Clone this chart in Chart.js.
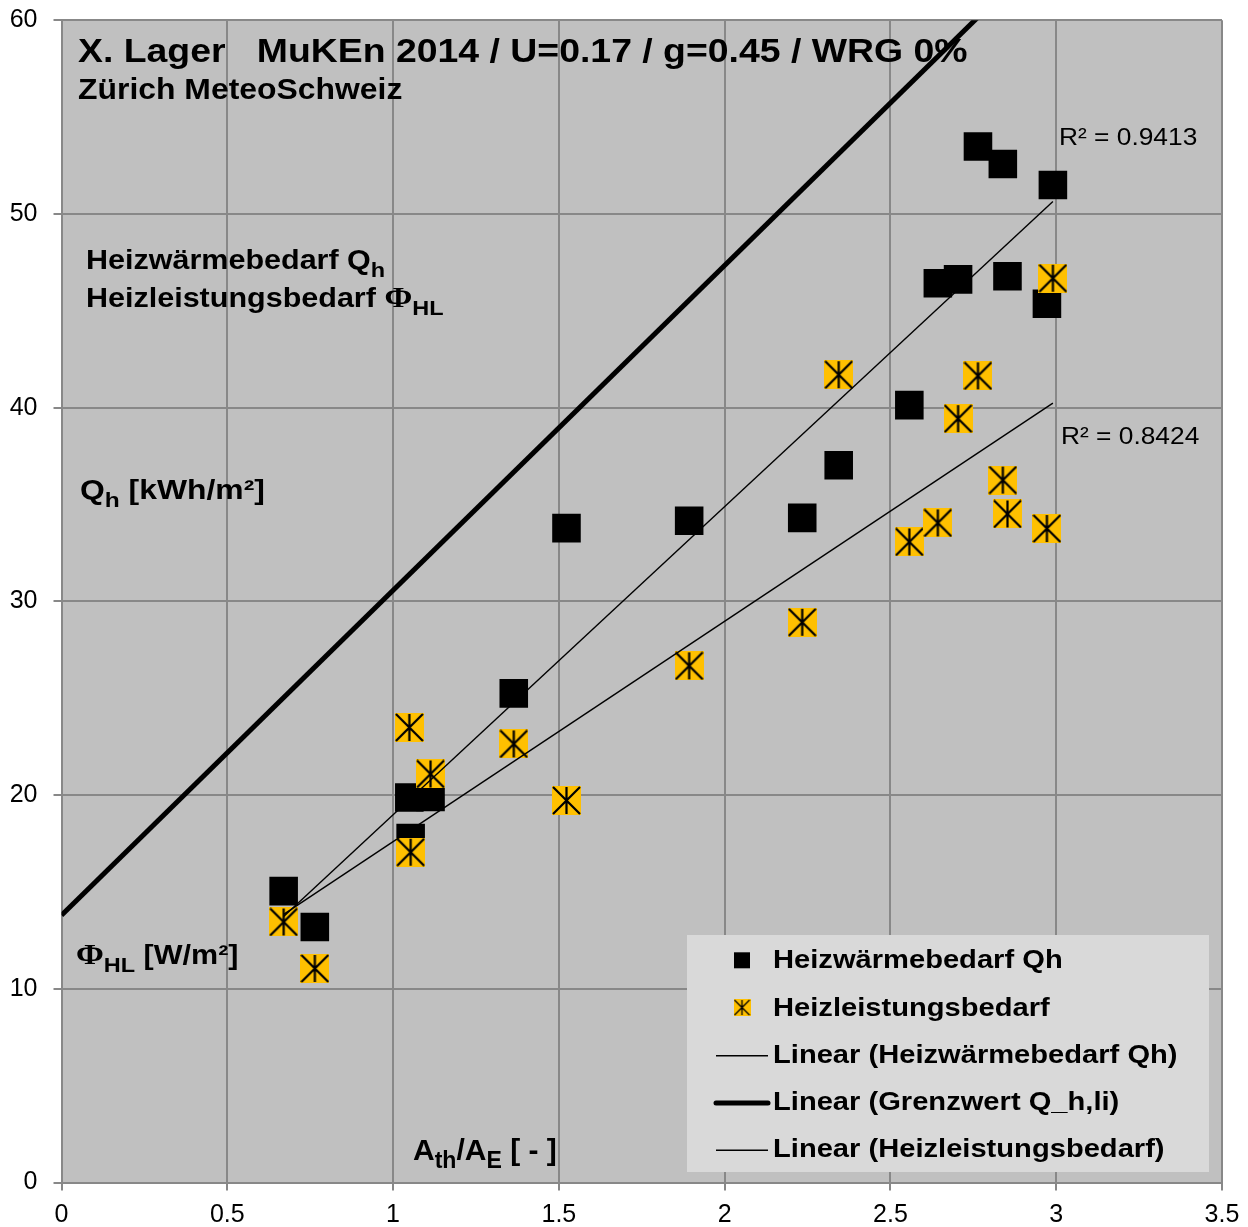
<!DOCTYPE html>
<html>
<head>
<meta charset="utf-8">
<script src="https://cdn.jsdelivr.net/npm/chart.js@4.4.1/dist/chart.umd.min.js"></script>
<style>
  html, body { margin: 0; padding: 0; background: #fff; }
  #wrap { width: 1248px; height: 1227px; position: relative; }
</style>
</head>
<body>
<div id="wrap"><canvas id="graf"></canvas></div>
<script>
// Daten

// A_th/A_E pro Gebaeude
const ath = [0.670, 0.764, 1.049, 1.113, 1.053, 1.364, 1.523, 1.893, 2.234, 2.344, 2.557, 2.643, 2.704, 2.853, 2.972, 2.764, 2.839, 2.990]
// Heizwaermebedarf Qh [kWh/m2]
const qh = [15.04, 13.19, 19.87, 19.90, 17.78, 25.25, 33.78, 34.16, 34.31, 37.03, 40.13, 46.42, 46.62, 46.78, 45.36, 53.48, 52.58, 51.49]
// Heizleistungsbedarf [W/m2]
const phi = [13.45, 11.05, 23.49, 21.09, 17.05, 22.64, 19.72, 26.67, 28.92, 41.70, 33.07, 34.05, 39.43, 34.51, 33.76, 41.64, 36.26, 46.68]

// Trendlinien, Endpunkte
const trendX = [0.670, 2.990]
const trendQh = [13.73, 50.64]
const trendPhi = [13.84, 40.23]
// Grenzwert Q_h,li
const grenzX = [0, 3.5]
const grenzY = [13.8, 72.5]

const xTicks = [0, 0.5, 1, 1.5, 2, 2.5, 3, 3.5]
const yTicks = [0, 10, 20, 30, 40, 50, 60]

const punkte = (xs, ys) => xs.map((x, i) => ({ x: x, y: ys[i] }))

// Excel "Stern"-Marker: gelbes Quadrat mit Sternchen
function sternMarker(s) {
    const c = document.createElement('canvas')
    c.width = s; c.height = s
    const g = c.getContext('2d')
    g.fillStyle = '#FFC000'
    g.fillRect(0, 0, s, s)
    g.strokeStyle = '#000'
    g.lineWidth = s / 13
    g.beginPath()
    g.moveTo(s / 2, 1); g.lineTo(s / 2, s - 1)
    g.moveTo(1, 1); g.lineTo(s - 1, s - 1)
    g.moveTo(s - 1, 1); g.lineTo(1, s - 1)
    g.stroke()
    return c
}
const sternGross = sternMarker(29)
const sternKlein = sternMarker(17)

const FONT = '"Liberation Sans", Arial, sans-serif'
const SERIF = '"Liberation Serif", "Times New Roman", serif'
Chart.defaults.font.family = FONT
Chart.defaults.color = '#000'

// Text mit tiefgestellten Teilen: ['Q', ['h']], Symbol: {s: 'Φ'}
function schreib(ctx, teile, x, y, size, bold, sx) {
    ctx.save()
    ctx.translate(x, y)
    ctx.scale(sx, 1)
    ctx.textAlign = 'left'
    ctx.textBaseline = 'alphabetic'
    ctx.fillStyle = '#000'
    let cx = 0
    for (const t of teile) {
        let txt = t, dy = 0
        if (Array.isArray(t)) {
            txt = t[0]
            dy = size * 0.28
            ctx.font = (bold ? 'bold ' : '') + (size * 0.77) + 'px ' + FONT
        } else if (typeof t === 'object') {
            txt = t.s
            ctx.font = 'bold ' + (size * 1.1) + 'px ' + SERIF
        } else {
            ctx.font = (bold ? 'bold ' : '') + size + 'px ' + FONT
        }
        ctx.fillText(txt, cx, dy)
        cx += ctx.measureText(txt).width
    }
    ctx.restore()
}

const texte = [
    { t: ['X. Lager   MuKEn 2014 / U=0.17 / g=0.45 / WRG 0%'], x: 78, y: 62, s: 34, b: true, sx: 1.1 },
    { t: ['Zürich MeteoSchweiz'], x: 78, y: 99, s: 29, b: true, sx: 1.1 },
    { t: ['Heizwärmebedarf Q', ['h']], x: 86, y: 269, s: 27, b: true, sx: 1.13 },
    { t: ['Heizleistungsbedarf ', { s: 'Φ' }, ['HL']], x: 86, y: 307, s: 27, b: true, sx: 1.13 },
    { t: ['Q', ['h'], ' [kWh/m²]'], x: 80, y: 499, s: 27, b: true, sx: 1.18 },
    { t: [{ s: 'Φ' }, ['HL'], ' [W/m²]'], x: 76, y: 964, s: 27, b: true, sx: 1.13 },
    { t: ['A', ['th'], '/A', ['E'], ' [ - ]'], x: 413, y: 1160, s: 30, b: true, sx: 1 },
    { t: ['R² = 0.9413'], x: 1059, y: 145, s: 23.5, b: false, sx: 1.12 },
    { t: ['R² = 0.8424'], x: 1061, y: 444, s: 23.5, b: false, sx: 1.12 }
]

const hintergrund = {
    id: 'hintergrund',
    beforeDraw(chart) {
        const { ctx, chartArea: a } = chart
        ctx.save()
        ctx.fillStyle = '#C0C0C0'
        ctx.fillRect(a.left, a.top, a.right - a.left, a.bottom - a.top)
        ctx.restore()
    }
}

// Beschriftungen und Legende im Diagramm
const beschriftung = {
    id: 'beschriftung',
    afterDatasetsDraw(chart) {
        const ctx = chart.ctx
        texte.forEach(l => schreib(ctx, l.t, l.x, l.y, l.s, l.b, l.sx))

        // Legende
        ctx.save()
        ctx.fillStyle = '#D9D9D9'
        ctx.fillRect(687, 935, 522, 237)
        const ds = chart.data.datasets
        ds.forEach((d, i) => {
            const yb = 968.3 + i * 47.25
            const ym = yb - 8
            if (i === 0) {
                ctx.fillStyle = '#000'
                ctx.fillRect(734, ym - 8, 16, 16)
            } else if (i === 1) {
                ctx.drawImage(sternKlein, 742 - 8.5, ym - 8.5)
            } else {
                ctx.strokeStyle = '#000'
                ctx.lineWidth = d.borderWidth
                ctx.lineCap = d.borderWidth > 3 ? 'round' : 'butt'
                ctx.beginPath()
                ctx.moveTo(716, ym + 1)
                ctx.lineTo(768, ym + 1)
                ctx.stroke()
            }
            schreib(ctx, [d.label], 773, yb, 26, true, 1.12)
        })
        ctx.restore()
    }
}

const data = {
    datasets: [
        {
            label: 'Heizwärmebedarf Qh',
            data: punkte(ath, qh),
            pointStyle: 'rect',
            pointRadius: 20.2,
            backgroundColor: '#000',
            borderColor: '#000',
            borderWidth: 0,
            order: 4
        },
        {
            label: 'Heizleistungsbedarf',
            data: punkte(ath, phi),
            pointStyle: sternGross,
            pointRadius: 14,
            order: 3
        },
        {
            label: 'Linear (Heizwärmebedarf Qh)',
            data: punkte(trendX, trendQh),
            showLine: true,
            borderColor: '#000',
            borderWidth: 1.4,
            pointRadius: 0,
            order: 0
        },
        {
            label: 'Linear (Grenzwert Q_h,li)',
            data: punkte(grenzX, grenzY),
            showLine: true,
            borderColor: '#000',
            borderWidth: 5,
            pointRadius: 0,
            clip: 0,
            order: 1
        },
        {
            label: 'Linear (Heizleistungsbedarf)',
            data: punkte(trendX, trendPhi),
            showLine: true,
            borderColor: '#000',
            borderWidth: 1.4,
            pointRadius: 0,
            order: 2
        }
    ]
}

const gitter = {
    color: '#888888',
    lineWidth: 2,
    tickLength: 8,
    tickColor: '#888888'
}

const config = {
    type: 'scatter',
    data: data,
    options: {
        responsive: true,
        maintainAspectRatio: false,
        animation: false,
        events: [],
        layout: { padding: { top: 18.7, right: 26, left: 0, bottom: 0 } },
        plugins: {
            legend: { display: false },
            tooltip: { enabled: false }
        },
        scales: {
            x: {
                type: 'linear',
                min: 0,
                max: 3.5,
                grid: gitter,
                border: { color: '#888888', width: 2 },
                ticks: { font: { size: 25 }, color: '#000', padding: 10, callback: v => String(v) },
                afterBuildTicks: s => { s.ticks = xTicks.map(v => ({ value: v })) },
                afterFit: s => { s.height = 44.5; s.paddingLeft = 10; s.paddingRight = 20 }
            },
            y: {
                type: 'linear',
                min: 0,
                max: 60,
                grid: gitter,
                border: { color: '#888888', width: 2 },
                ticks: { font: { size: 25 }, color: '#000', padding: 16, callback: v => String(v) },
                afterBuildTicks: s => { s.ticks = yTicks.map(v => ({ value: v })) },
                afterFit: s => { s.width = 61.5; s.paddingTop = 15; s.paddingBottom = 15 }
            }
        }
    },
    plugins: [hintergrund, beschriftung]
}

const grafik = new Chart(document.getElementById('graf').getContext('2d'), config)
</script>
</body>
</html>
